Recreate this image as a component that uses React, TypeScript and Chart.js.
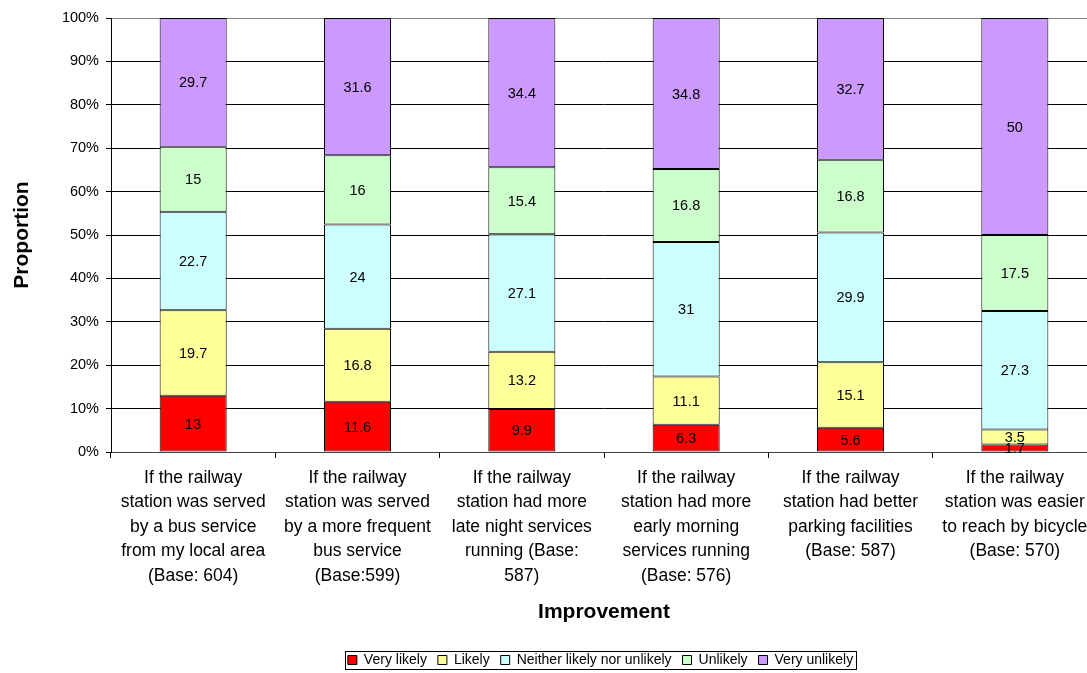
import React, { useEffect, useRef } from 'react';
import { Chart, registerables } from 'chart.js';

Chart.register(...registerables);

const categories: string[][] = [
  ['If the railway', 'station was served', 'by a bus service', 'from my local area', '(Base: 604)'],
  ['If the railway', 'station was served', 'by a more frequent', 'bus service', '(Base:599)'],
  ['If the railway', 'station had more', 'late night services', 'running (Base:', '587)'],
  ['If the railway', 'station had more', 'early morning', 'services running', '(Base: 576)'],
  ['If the railway', 'station had better', 'parking facilities', '(Base: 587)'],
  ['If the railway', 'station was easier', 'to reach by bicycle', '(Base: 570)'],
];

const veryLikely = [13, 11.6, 9.9, 6.3, 5.6, 1.7];
const likely = [19.7, 16.8, 13.2, 11.1, 15.1, 3.5];
const neither = [22.7, 24, 27.1, 31, 29.9, 27.3];
const unlikely = [15, 16, 15.4, 16.8, 16.8, 17.5];
const veryUnlikely = [29.7, 31.6, 34.4, 34.8, 32.7, 50];

const seriesNames = ['Very likely', 'Likely', 'Neither likely nor unlikely', 'Unlikely', 'Very unlikely'];
const seriesColors = ['#FF0000', '#FFFF99', '#CCFFFF', '#CCFFCC', '#CC99FF'];
const yTickValues = [0, 10, 20, 30, 40, 50, 60, 70, 80, 90, 100];

const FONT = '"Liberation Sans", Arial, sans-serif';

export default function App() {
  const ref = useRef<HTMLCanvasElement | null>(null);

  useEffect(() => {
    if (!ref.current) return;
    const rawSeries = [veryLikely, likely, neither, unlikely, veryUnlikely];
    const totals = categories.map((_, j) => rawSeries.reduce((s, arr) => s + arr[j], 0));

    const valueLabels = {
      id: 'valueLabels',
      afterDatasetsDraw(chart: any) {
        const ctx = chart.ctx;
        ctx.save();
        ctx.font = `14.5px ${FONT}`;
        ctx.fillStyle = '#000';
        ctx.textAlign = 'center';
        ctx.textBaseline = 'middle';
        chart.data.datasets.forEach((_: any, i: number) => {
          const meta = chart.getDatasetMeta(i);
          meta.data.forEach((bar: any, j: number) => {
            const { x, y, base } = bar.getProps(['x', 'y', 'base'], true);
            ctx.fillText(String(rawSeries[i][j]), x, (y + base) / 2 + 1);
          });
        });
        ctx.restore();
      },
    };

    const legendBorder = {
      id: 'legendBorder',
      afterDraw(chart: any) {
        const lg = chart.legend;
        if (!lg || !lg.legendHitBoxes || !lg.legendHitBoxes.length) return;
        const hb = lg.legendHitBoxes;
        let l = Infinity, r = -Infinity, t = Infinity, b = -Infinity;
        hb.forEach((h: any) => {
          l = Math.min(l, h.left);
          r = Math.max(r, h.left + h.width);
          t = Math.min(t, h.top);
          b = Math.max(b, h.top + h.height);
        });
        const ctx = chart.ctx;
        ctx.save();
        ctx.strokeStyle = '#000';
        ctx.lineWidth = 1;
        ctx.strokeRect(Math.round(l - 3) + 0.5, Math.round(t - 2) + 0.5, Math.round(r - l + 6), Math.round(b - t + 4));
        ctx.restore();
      },
    };

    const chart = new Chart(ref.current, {
      type: 'bar',
      data: {
        labels: categories,
        datasets: rawSeries.map((arr, i) => ({
          label: seriesNames[i],
          data: arr.map((v, j) => (v / totals[j]) * 100),
          backgroundColor: seriesColors[i],
          borderColor: '#000',
          borderWidth: 1,
          borderSkipped: false,
          barPercentage: 0.408,
          categoryPercentage: 1,
          xAxisID: 'x',
          yAxisID: 'y',
        })),
      },
      options: {
        responsive: false,
        animation: false,
        devicePixelRatio: 1,
        layout: { padding: { top: 18, left: 0, right: 0, bottom: 3 } },
        plugins: {
          tooltip: { enabled: false },
          legend: {
            display: true,
            position: 'bottom',
            labels: {
              boxWidth: 9,
              boxHeight: 9,
              padding: 11,
              color: '#000',
              font: { family: FONT, size: 14 },
            },
          },
        },
        scales: {
          x: {
            stacked: true,
            offset: true,
            grid: { display: true, drawOnChartArea: false, drawTicks: true, tickLength: 6, color: '#000' },
            border: { display: true, color: '#404040', width: 1 },
            ticks: {
              color: '#000',
              font: { family: FONT, size: 17.5, lineHeight: 24.4 / 17.5 },
              padding: 8,
              maxRotation: 0,
              minRotation: 0,
              autoSkip: false,
            },
            title: {
              display: true,
              text: 'Improvement',
              color: '#000',
              font: { family: FONT, size: 21, weight: 'bold', lineHeight: 20 / 21 },
              padding: { top: 0, bottom: 20 },
            },
            afterFit: (s: any) => {
              s.height = 190;
            },
          },
          y: {
            stacked: true,
            min: 0,
            max: 100,
            afterBuildTicks: (s: any) => {
              s.ticks = yTickValues.map((v) => ({ value: v }));
            },
            grid: {
              display: true,
              drawTicks: true,
              tickLength: 5,
              color: (c: any) => (c.tick && c.tick.value === 100 ? '#808080' : '#000'),
              tickColor: '#000',
            },
            border: { display: true, color: '#000', width: 1 },
            ticks: {
              color: '#000',
              font: { family: FONT, size: 14.5 },
              padding: 7,
              callback: (v: any) => `${v}%`,
            },
            title: {
              display: true,
              text: 'Proportion',
              color: '#000',
              font: { family: FONT, size: 21, weight: 'bold', lineHeight: 1.2 },
              padding: { top: 9.4, bottom: 0 },
            },
            afterFit: (s: any) => {
              s.width = 111;
            },
          },
          yRight: {
            position: 'right',
            display: true,
            min: 0,
            max: 1,
            grid: { display: false, drawTicks: false },
            border: { display: false },
            ticks: { display: false },
            afterFit: (s: any) => {
              s.width = 104;
            },
          },
        },
      } as any,
      plugins: [valueLabels, legendBorder],
    });

    return () => chart.destroy();
  }, []);

  return (
    <div style={{ position: 'fixed', left: 0, top: 0, width: 1087, height: 673, overflow: 'hidden', background: '#fff' }}>
      <canvas ref={ref} width={1201} height={680} style={{ display: 'block', width: 1201, height: 680 }} />
    </div>
  );
}
